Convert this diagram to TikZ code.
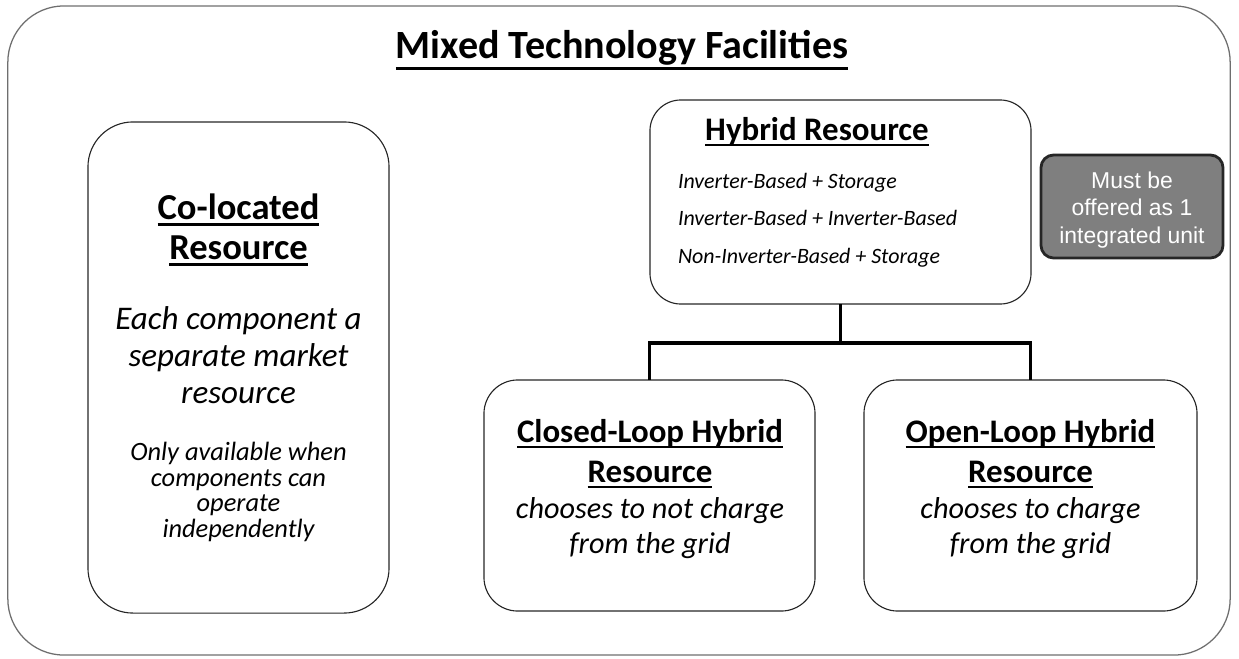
\documentclass[tikz,border=0pt]{standalone}
\usepackage{fontspec}
\setmainfont{Carlito}
\newfontfamily\arialfont{Liberation Sans}

% underline at a fixed offset below the baseline
\newcommand{\hdul}[2][0.19em]{\setbox0=\hbox{#2}\leavevmode\rlap{\copy0}\raisebox{-#1}{\rule{\wd0}{0.075em}}}

\definecolor{framegray}{HTML}{6E6E6E}
\definecolor{boxgray}{HTML}{7F7F7F}
\definecolor{edgegray}{HTML}{262626}

\begin{document}
\begin{tikzpicture}[x=0.025cm, y=-0.025cm, every node/.style={inner sep=0pt, outer sep=0pt},
  box/.style={draw=black!85, line width=0.8pt, rounded corners=#1},
  conn/.style={line width=2.2pt, line join=miter},
  head/.style={anchor=base, font=\fontsize{23.4}{26}\selectfont\bfseries},
  body/.style={anchor=base, font=\fontsize{21.5}{26}\selectfont\itshape}]
  \useasboundingbox (0,0) rectangle (1239,659);

  % outer frame
  \node[draw=framegray, line width=0.9pt, rounded corners=40pt,
    minimum width=30.55cm, minimum height=16.225cm] (frame) at (619,330.5) {};
  \node[anchor=base, font=\fontsize{28.5}{32}\selectfont\bfseries] (title) at (622,58)
    {\hdul[0.3em]{Mixed Technology Facilities}};

  % co-located resource
  \node[box=32pt, minimum width=7.525cm, minimum height=12.275cm] (colo) at (238.5,367.5) {};
  \foreach \txt [count=\i from 0] in {Co-located, Resource}
    \node[head, font=\fontsize{26}{26}\selectfont\bfseries] (coloHead\i) at (238.5,{219+40*\i}) {\hdul{\txt}};
  \foreach \txt [count=\i from 0] in {Each component a, separate market, resource}
    \node[body, font=\fontsize{23.5}{26}\selectfont\itshape] (coloBody\i) at (238.5,{329+37*\i}) {\txt};
  \foreach \txt [count=\i from 0] in {Only available when, components can, operate, independently}
    \node[body, font=\fontsize{18.8}{20}\selectfont\itshape] (coloNote\i) at (238.5,{460.5+25.5*\i}) {\txt};

  % hybrid resource
  \node[box=22pt, minimum width=9.525cm, minimum height=5.1cm] (hyb) at (840.5,202) {};
  \node[head] (hybHead) at (817,140) {\hdul{Hybrid Resource}};
  \foreach \txt [count=\i from 0] in {Inverter-Based + Storage, Inverter-Based + Inverter-Based,
      Non-Inverter-Based + Storage}
    \node[anchor=base west, font=\fontsize{15.6}{20}\selectfont\itshape] (hybItem\i) at (678,{188+37.5*\i}) {\txt};

  % note box
  \node[draw=edgegray, fill=boxgray, line width=2pt, rounded corners=9pt,
    minimum width=4.55cm, minimum height=2.575cm] (must) at (1132,206.5) {};
  \foreach \txt [count=\i from 0] in {Must be, offered as 1, integrated unit}
    \node[anchor=base, text=white, font=\arialfont\fontsize{16.3}{20}\selectfont] (mustText\i)
      at (1132,{188+27.5*\i}) {\txt};

  % the two hybrid types
  \node[box=24pt, minimum width=8.275cm, minimum height=5.775cm] (closed) at (649.5,495.5) {};
  \node[head] (closedHead0) at (650,442) {\hdul{Closed-Loop Hybrid}};
  \node[head] (closedHead1) at (650,482) {\hdul{Resource}};
  \node[body] (closedBody0) at (650,518) {chooses to not charge};
  \node[body] (closedBody1) at (650,553) {from the grid};

  \node[box=24pt, minimum width=8.325cm, minimum height=5.775cm] (open) at (1030.5,495.5) {};
  \node[head] (openHead0) at (1030.5,442) {\hdul{Open-Loop Hybrid}};
  \node[head] (openHead1) at (1030.5,482) {\hdul{Resource}};
  \node[body] (openBody0) at (1030.5,518) {chooses to charge};
  \node[body] (openBody1) at (1030.5,553) {from the grid};

  % tree connectors
  \coordinate (split) at (840.5,343);
  \draw[conn] (hyb.south) -- (split);
  \draw[conn] (closed.north) |- (split) -| (open.north);
\end{tikzpicture}
\end{document}
